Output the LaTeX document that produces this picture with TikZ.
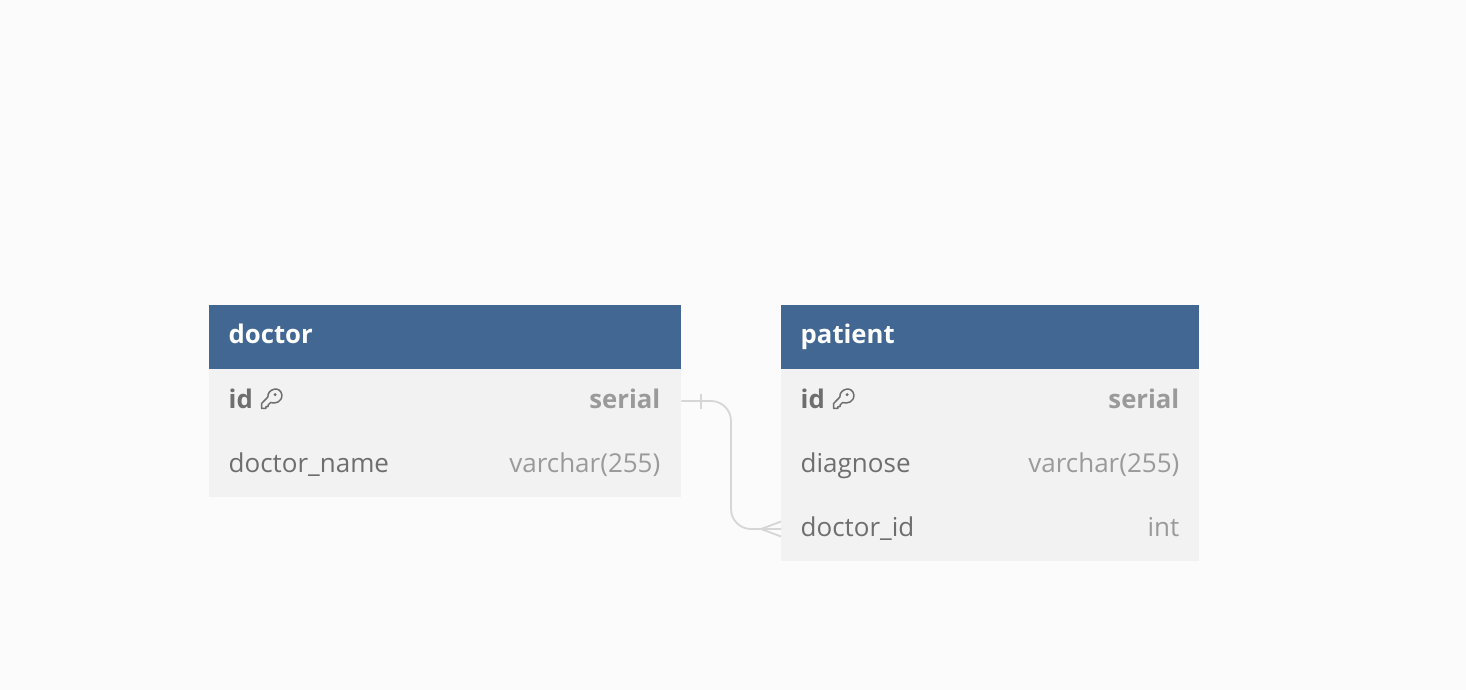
\documentclass[tikz,border=0pt]{standalone}
\usepackage{fontspec}
\setmainfont{Open Sans}
\tikzset{
 x=1pt,y=-1pt,
 head/.style={fill=headblue,draw=none,minimum height=64pt,inner sep=0pt,anchor=north west},
 body/.style={fill=rowgray,draw=none,inner sep=0pt,anchor=north west},
 title/.style={text=white,font=\fontsize{25.7}{26}\selectfont\bfseries,anchor=base west,inner sep=0pt},
 fname/.style={text=fieldgray,font=\fontsize{26}{26}\selectfont,anchor=base west,inner sep=0pt},
 fkey/.style={fname,font=\fontsize{25.7}{26}\selectfont\bfseries},
 ftype/.style={text=typegray,font=\fontsize{26}{26}\selectfont,anchor=base east,inner sep=0pt},
 tkey/.style={ftype,font=\fontsize{25.7}{26}\selectfont\bfseries},
 link/.style={draw=linegray,line width=1.8pt},
 keyicon/.pic={
  \draw[draw=fieldgray,line width=1.5pt,line join=round]
   (-10,5.6) -- (-3.6,-1) .. controls (-4.5,-9) and (9,-13) .. (10.4,-3)
   .. controls (10.5,4) and (4,6) .. (-1,4.6) -- (-3.4,7) -- (-3.4,8.6) -- (-5.6,8.6) -- (-5.6,10.4) -- (-10,10.4) -- cycle;
  \fill[fieldgray] (3.6,-3.4) circle[radius=1.7];
 }
}
\definecolor{bg}{HTML}{FBFBFB}
\definecolor{headblue}{HTML}{416792}
\definecolor{rowgray}{HTML}{F2F2F2}
\definecolor{fieldgray}{HTML}{6E6E6E}
\definecolor{typegray}{HTML}{9A9A9A}
\definecolor{linegray}{HTML}{D6D6D6}
\begin{document}
\begin{tikzpicture}
\path[fill=bg,use as bounding box] (0,0) rectangle (1466,690);
% doctor
\node[body,minimum width=472pt,minimum height=128pt] (docbody) at (209,369) {};
\node[head,minimum width=472pt] (dochead) at (209,305) {};
\node[title] (doctitle) at (228.5,343) {doctor};
\node[fkey] (docid) at (228.5,408) {id};
\pic at (271.5,398) {keyicon};
\node[tkey] (docidt) at (660.5,408) {serial};
\node[fname] (docname) at (228.5,472) {doctor\_name};
\node[ftype] (docnamet) at (660.5,472) {varchar(255)};
% patient
\node[body,minimum width=418pt,minimum height=192pt] (patbody) at (781,369) {};
\node[head,minimum width=418pt] (pathead) at (781,305) {};
\node[title] (pattitle) at (800.5,343) {patient};
\node[fkey] (patid) at (800.5,408) {id};
\pic at (843.5,398) {keyicon};
\node[tkey] (patidt) at (1179.5,408) {serial};
\node[fname] (patdiag) at (800.5,472) {diagnose};
\node[ftype] (patdiagt) at (1179.5,472) {varchar(255)};
\node[fname] (patdoc) at (800.5,536) {doctor\_id};
\node[ftype] (patdoct) at (1179.5,536) {int};
% connector
\coordinate (src) at (docbody.north east |- 0,401);
\coordinate (dst) at (patbody.north west |- 0,529);
\draw[link,rounded corners=20pt] (src) -- (731,401) -- (731,529) -- (dst);
\draw[link] (701,393.5) -- (701,408.5);
\coordinate (fork) at (761,529);
\draw[link] (fork) -- (dst |- 0,521.5);
\draw[link] (fork) -- (dst |- 0,536.5);
\end{tikzpicture}
\end{document}
